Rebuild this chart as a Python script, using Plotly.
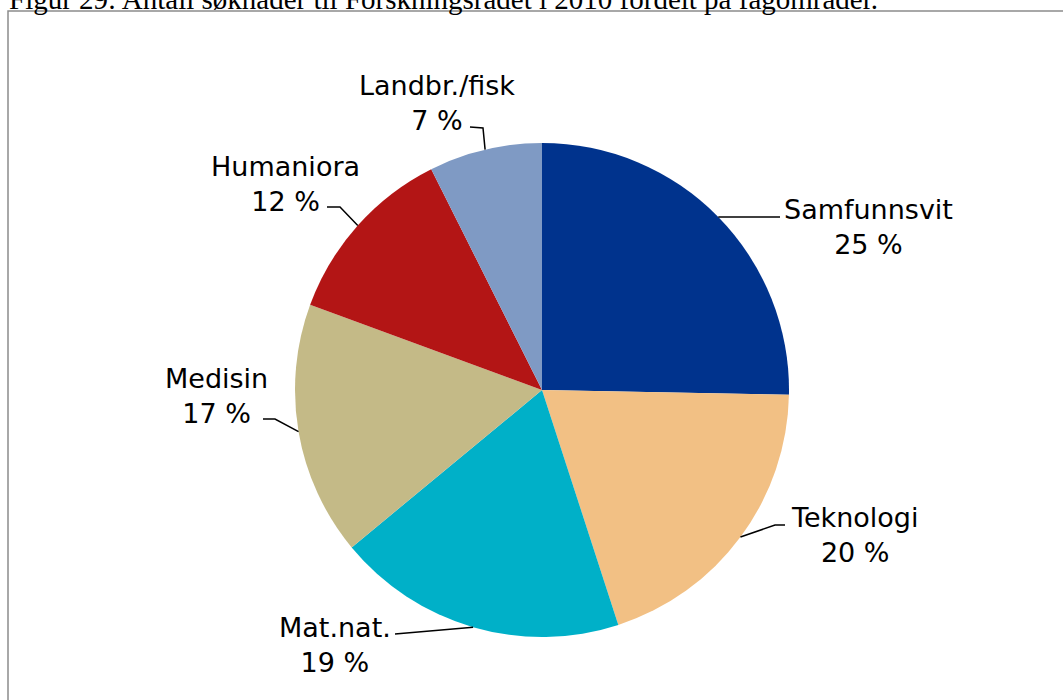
import math
import plotly.graph_objects as go

# ---- data ----
categories = ["Samfunnsvit", "Teknologi", "Mat.nat.", "Medisin", "Humaniora", "Landbr./fisk"]
shares = [25.3, 19.7, 19.0, 16.6, 12.0, 7.4]
colors = ["#00338D", "#F2C084", "#00B0C8", "#C4BA87", "#B31515", "#7F9AC4"]
title_text = "Figur 29: Antall søknader til Forskningsrådet i 2010 fordelt på fagområder."

# ---- layout geometry (pixels) ----
W, H = 1063, 700
cx, cy, R = 542, 390, 247
# label centre positions and leader elbow/end points (pixels)
label_pos = [(868, 227), (854, 535), (335, 645), (216, 396), (285, 184), (437, 103)]
leader_pts = [
    [(780, None)],
    [(775, 525), (785, 525)],
    [(395, 634)],
    [(275, 419), (263, 419)],
    [(340, 207), (327, 207)],
    [(483, 128), (470, 127)],
]

def px(x):
    return x / W

def py(y):
    return 1 - y / H

total = sum(shares)
fig = go.Figure()
fig.add_trace(go.Pie(
    labels=categories,
    values=shares,
    marker=dict(colors=colors, line=dict(width=0)),
    sort=False,
    direction="clockwise",
    rotation=0,
    textinfo="none",
    hoverinfo="label+percent",
    showlegend=False,
    domain=dict(x=[px(cx - R), px(cx + R)], y=[py(cy + R), py(cy - R)]),
))

shapes = []
annotations = []
cum = 0.0
for i, (cat, v) in enumerate(zip(categories, shares)):
    mid = (cum + v / 2) / total * 2 * math.pi
    cum += v
    sx = cx + R * math.sin(mid)
    sy = cy - R * math.cos(mid)
    pts = [(sx, sy)]
    for (lx, ly) in leader_pts[i]:
        pts.append((lx, sy if ly is None else ly))
    path = "M " + " L ".join(f"{px(x)},{py(y)}" for x, y in pts)
    shapes.append(dict(type="path", xref="paper", yref="paper", path=path,
                       line=dict(color="black", width=1.5)))
    pct = round(v / total * 100)
    lx, ly = label_pos[i]
    annotations.append(dict(
        x=px(lx), y=py(ly), xref="paper", yref="paper",
        text=f"{cat}<br>{pct} %", showarrow=False,
        xanchor="center", yanchor="middle", align="center",
        font=dict(family="DejaVu Sans, Verdana, sans-serif", size=27, color="black"),
    ))

# border frame
shapes.append(dict(type="rect", xref="paper", yref="paper",
                   x0=px(8), y0=py(11), x1=1.02, y1=-0.02,
                   line=dict(color="#8C8C8C", width=1.5), fillcolor="rgba(0,0,0,0)"))

annotations.append(dict(
    x=px(7), y=py(17), xref="paper", yref="paper",
    text=title_text, showarrow=False, xanchor="left", yanchor="bottom",
    font=dict(family="Liberation Serif, Times New Roman, serif", size=29, color="black"),
))

fig.update_layout(
    width=W, height=H,
    margin=dict(l=0, r=0, t=0, b=0),
    paper_bgcolor="white", plot_bgcolor="white",
    shapes=shapes, annotations=annotations,
)

fig.write_html("out.html", config={"displayModeBar": False},
               post_script="document.body.style.margin='0';document.body.style.overflow='hidden';")
